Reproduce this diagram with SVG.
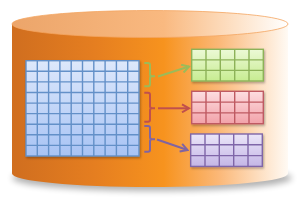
<svg xmlns="http://www.w3.org/2000/svg" width="300" height="201" viewBox="0 0 300 201">
<defs>
<linearGradient id="body" x1="12" y1="0" x2="288" y2="0" gradientUnits="userSpaceOnUse">
<stop offset="0" stop-color="#d06e1f"/>
<stop offset="0.3" stop-color="#e57e20"/>
<stop offset="0.55" stop-color="#f7931e"/>
<stop offset="0.75" stop-color="#fbb878"/>
<stop offset="1" stop-color="#fffaf4"/>
</linearGradient>
<linearGradient id="top" x1="12" y1="0" x2="288" y2="0" gradientUnits="userSpaceOnUse">
<stop offset="0" stop-color="#eca56a"/>
<stop offset="0.55" stop-color="#f9b980"/>
<stop offset="0.8" stop-color="#fde0c4"/>
<stop offset="1" stop-color="#ffffff"/>
</linearGradient>
<linearGradient id="blue" x1="0" y1="0" x2="0" y2="1">
<stop offset="0" stop-color="#dde8fb"/>
<stop offset="1" stop-color="#a8c3f4"/>
</linearGradient>
<linearGradient id="green" x1="0" y1="0" x2="0" y2="1">
<stop offset="0" stop-color="#ecf9d6"/>
<stop offset="1" stop-color="#c7ec91"/>
</linearGradient>
<linearGradient id="red" x1="0" y1="0" x2="0" y2="1">
<stop offset="0" stop-color="#fddde0"/>
<stop offset="1" stop-color="#f2a2a9"/>
</linearGradient>
<linearGradient id="purple" x1="0" y1="0" x2="0" y2="1">
<stop offset="0" stop-color="#ebe6f8"/>
<stop offset="1" stop-color="#c4b6e6"/>
</linearGradient>
<filter id="blur" x="-20%" y="-50%" width="140%" height="200%"><feGaussianBlur stdDeviation="3"/></filter>
<filter id="ds" x="-10%" y="-10%" width="125%" height="130%"><feDropShadow dx="1" dy="1.5" stdDeviation="1" flood-color="#000" flood-opacity="0.3"/></filter>
<marker id="mg" viewBox="0 0 10 10" refX="8" refY="5" markerWidth="10" markerHeight="10" markerUnits="userSpaceOnUse" orient="auto"><path d="M1,1 L8,5 L1,9" fill="none" stroke="#9bbb59" stroke-width="2"/></marker>
<marker id="mr" viewBox="0 0 10 10" refX="8" refY="5" markerWidth="10" markerHeight="10" markerUnits="userSpaceOnUse" orient="auto"><path d="M1,1 L8,5 L1,9" fill="none" stroke="#c0504d" stroke-width="2"/></marker>
<marker id="mp" viewBox="0 0 10 10" refX="8" refY="5" markerWidth="10" markerHeight="10" markerUnits="userSpaceOnUse" orient="auto"><path d="M1,1 L8,5 L1,9" fill="none" stroke="#8064a2" stroke-width="2"/></marker>
<style>
.bl{fill:none;stroke:#6390c8;stroke-width:1.4}
.gl{fill:none;stroke:#8db259;stroke-width:1.4}
.rl{fill:none;stroke:#bf5a62;stroke-width:1.4}
.pl{fill:none;stroke:#7f66a8;stroke-width:1.4}
.br{fill:none;stroke-width:2;stroke-linejoin:round}
.ar{fill:none;stroke-width:2}
</style>
</defs>

<g id="cylinder">
<ellipse cx="152" cy="178" rx="140" ry="13" fill="#000" opacity="0.3" filter="url(#blur)"/>
<path d="M12,24 L12,173.5 A138,13.5 0 0 0 288,173.5 L288,24 Z" fill="url(#body)"/>
<ellipse cx="150" cy="24" rx="138" ry="13.5" fill="url(#top)" stroke="#f4a460" stroke-width="0.8"/>
</g>

<g id="main-table" filter="url(#ds)">
<rect x="26" y="60.7" width="113" height="95.3" fill="url(#blue)"/>
<path class="bl" d="M37.3,60.7V156M48.6,60.7V156M59.9,60.7V156M71.2,60.7V156M82.5,60.7V156M93.8,60.7V156M105.1,60.7V156M116.4,60.7V156M127.7,60.7V156M26,71.3H139M26,81.9H139M26,92.5H139M26,103.1H139M26,113.6H139M26,124.2H139M26,134.8H139M26,145.4H139"/>
<rect class="bl" x="26" y="60.7" width="113" height="95.3"/>
</g>

<g id="green-table" filter="url(#ds)">
<rect x="191.7" y="49.3" width="71.6" height="31.7" fill="url(#green)"/>
<path class="gl" d="M206,49.3V81M220.3,49.3V81M234.7,49.3V81M249,49.3V81M191.7,59.9H263.3M191.7,70.4H263.3"/>
<rect class="gl" x="191.7" y="49.3" width="71.6" height="31.7"/>
</g>

<g id="red-table" filter="url(#ds)">
<rect x="191.7" y="91.3" width="71.6" height="32.4" fill="url(#red)"/>
<path class="rl" d="M206,91.3V123.7M220.3,91.3V123.7M234.7,91.3V123.7M249,91.3V123.7M191.7,102.1H263.3M191.7,112.9H263.3"/>
<rect class="rl" x="191.7" y="91.3" width="71.6" height="32.4"/>
</g>

<g id="purple-table" filter="url(#ds)">
<rect x="190.7" y="134" width="71.6" height="32.4" fill="url(#purple)"/>
<path class="pl" d="M205,134V166.4M219.3,134V166.4M233.7,134V166.4M248,134V166.4M190.7,144.8H262.3M190.7,155.6H262.3"/>
<rect class="pl" x="190.7" y="134" width="71.6" height="32.4"/>
</g>

<g id="connectors">
<path class="br" stroke="#9bbb59" d="M144.3,63H148Q150,63 150,65V74Q150,76.3 152,76.3H155M152,76.3Q150,76.3 150,78.5V84Q150,86.3 148,86.3H144.3"/>
<path class="br" stroke="#c0504d" d="M144.3,92.7H148Q150,92.7 150,94.7V106Q150,108.3 152,108.3H155M152,108.3Q150,108.3 150,110.5V119.5Q150,121.7 148,121.7H144.3"/>
<path class="br" stroke="#8064a2" d="M144.3,126H148Q150,126 150,128V137Q150,139.3 152,139.3H155M152,139.3Q150,139.3 150,141.5V149.5Q150,151.7 148,151.7H144.3"/>
<path class="ar" stroke="#9bbb59" d="M158,76.5L189,66.5" marker-end="url(#mg)"/>
<path class="ar" stroke="#c0504d" d="M158,108.3H189" marker-end="url(#mr)"/>
<path class="ar" stroke="#8064a2" d="M157,139.5L187.5,150" marker-end="url(#mp)"/>
</g>
</svg>
